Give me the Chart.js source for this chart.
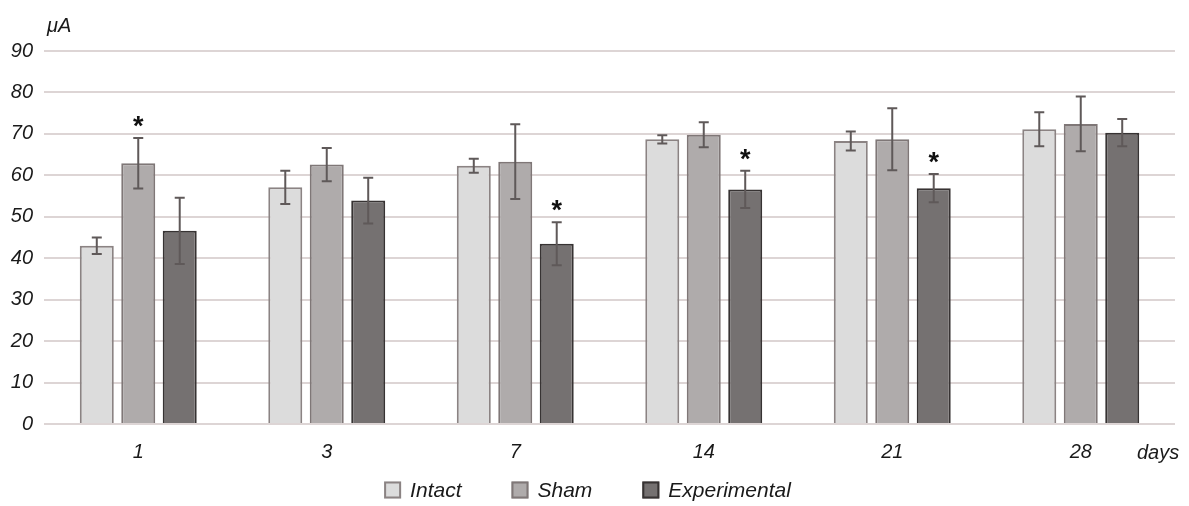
<!DOCTYPE html>
<html>
<head>
<meta charset="utf-8">
<script src="https://cdn.jsdelivr.net/npm/chart.js@4.4.1/dist/chart.umd.min.js"></script>
<style>
  html, body { margin: 0; padding: 0; background: #ffffff; }
  #wrap { position: relative; width: 1189px; height: 506px; }
</style>
</head>
<body>
<div id="wrap"><canvas id="c"></canvas></div>
<script>
// ---- data ----
const categories = ['1', '3', '7', '14', '21', '28'];
const seriesNames = ['Intact', 'Sham', 'Experimental'];
const intact = [43.0, 57.1, 62.3, 68.7, 68.3, 71.1];
const intactErr = [2.0, 4.0, 1.7, 1.0, 2.3, 4.1];
const sham = [62.9, 62.6, 63.3, 69.8, 68.7, 72.4];
const shamErr = [6.1, 4.0, 9.0, 3.0, 7.5, 6.6];
const experimental = [46.6, 53.9, 43.5, 56.6, 56.9, 70.3];
const experimentalErr = [8.0, 5.5, 5.2, 4.5, 3.4, 3.3];
const shamSignificant = [true, false, false, false, false, false];
const experimentalSignificant = [false, false, true, true, true, false];
const intactSignificant = [false, false, false, false, false, false];
const yTicks = [0, 10, 20, 30, 40, 50, 60, 70, 80, 90];
const yUnit = 'μA';
const xUnit = 'days';

// ---- styles ----
const FONT = '"Liberation Sans", Arial, sans-serif';
const fills = ['#dcdcdc', '#afabab', '#757171'];
const borders = ['#8b8383', '#7f7777', '#373333'];
const TEXT = '#1a1a1a';

const errorsPlugin = {
  id: 'errorsAndMarks',
  afterDatasetsDraw(chart) {
    const ctx = chart.ctx;
    const y = chart.scales.y;
    chart.data.datasets.forEach((ds, i) => {
      const meta = chart.getDatasetMeta(i);
      meta.data.forEach((el, j) => {
        const v = ds.data[j], e = ds.errors[j];
        const yt = y.getPixelForValue(v + e);
        const yb = y.getPixelForValue(v - e);
        ctx.save();
        ctx.strokeStyle = '#5f5959';
        ctx.lineWidth = 2;
        ctx.beginPath();
        ctx.moveTo(el.x, yt); ctx.lineTo(el.x, yb);
        ctx.moveTo(el.x - 5, yt); ctx.lineTo(el.x + 5, yt);
        ctx.moveTo(el.x - 5, yb); ctx.lineTo(el.x + 5, yb);
        ctx.stroke();
        if (ds.significant[j]) {
          ctx.fillStyle = '#111';
          ctx.font = 'bold 27px ' + FONT;
          ctx.textAlign = 'center';
          ctx.textBaseline = 'alphabetic';
          ctx.fillText('*', el.x, yt - 3);
        }
        ctx.restore();
      });
    });
  },
  afterDraw(chart) {
    const ctx = chart.ctx;
    const area = chart.chartArea;
    ctx.save();
    ctx.fillStyle = TEXT;
    ctx.font = 'italic 20px ' + FONT;
    ctx.textBaseline = 'alphabetic';
    ctx.textAlign = 'left';
    ctx.fillText(yUnit, area.left + 3, area.top - 19);
    ctx.fillText(xUnit, area.right - 38, area.bottom + 35);
    // legend
    ctx.font = 'italic 21px ' + FONT;
    const box = 17, gapText = 9, gapItem = 50;
    const items = chart.data.datasets.map((ds) => ({
      label: ds.label, fill: ds.backgroundColor, stroke: ds.borderColor,
      w: box + gapText + ctx.measureText(ds.label).width
    }));
    const total = items.reduce((s, it) => s + it.w, 0) + gapItem * (items.length - 1);
    let x = chart.width / 2 - 7 - total / 2;
    const cy = 490;
    items.forEach((it) => {
      ctx.fillStyle = it.fill;
      ctx.fillRect(x, cy - box / 2, box, box);
      ctx.strokeStyle = it.stroke;
      ctx.lineWidth = 2;
      ctx.strokeRect(x + 1, cy - box / 2 + 1, box - 2, box - 2);
      ctx.fillStyle = TEXT;
      ctx.textBaseline = 'middle';
      ctx.fillText(it.label, x + box + gapText, cy + 1);
      x += it.w + gapItem;
    });
    ctx.restore();
  }
};

const seriesValues = [intact, sham, experimental];
const seriesErrors = [intactErr, shamErr, experimentalErr];
const seriesSig = [intactSignificant, shamSignificant, experimentalSignificant];

new Chart(document.getElementById('c'), {
  type: 'bar',
  data: {
    labels: categories,
    datasets: seriesNames.map((n, i) => ({
      label: n,
      data: seriesValues[i],
      errors: seriesErrors[i],
      significant: seriesSig[i],
      backgroundColor: fills[i],
      borderColor: borders[i],
      borderWidth: 2,
      categoryPercentage: 0.66,
      barPercentage: 0.82
    }))
  },
  options: {
    responsive: true,
    maintainAspectRatio: false,
    animation: false,
    layout: { padding: { left: 0, right: 14, top: 51, bottom: 42 } },
    plugins: { legend: { display: false }, tooltip: { enabled: false } },
    scales: {
      x: {
        grid: { display: false, drawTicks: false },
        border: { display: false },
        ticks: { color: TEXT, font: { family: FONT, size: 20, style: 'italic' }, padding: 16 },
        afterFit(s) { s.height = 40; }
      },
      y: {
        min: 0, max: 90,
        afterBuildTicks(s) { s.ticks = yTicks.map(v => ({ value: v })); },
        grid: { color: '#ddd5d5', lineWidth: 2, drawTicks: false },
        border: { display: false },
        ticks: { color: TEXT, font: { family: FONT, size: 20, style: 'italic' }, padding: 11 },
        afterFit(s) { s.width = 44; }
      }
    }
  },
  plugins: [errorsPlugin]
});
</script>
</body>
</html>
